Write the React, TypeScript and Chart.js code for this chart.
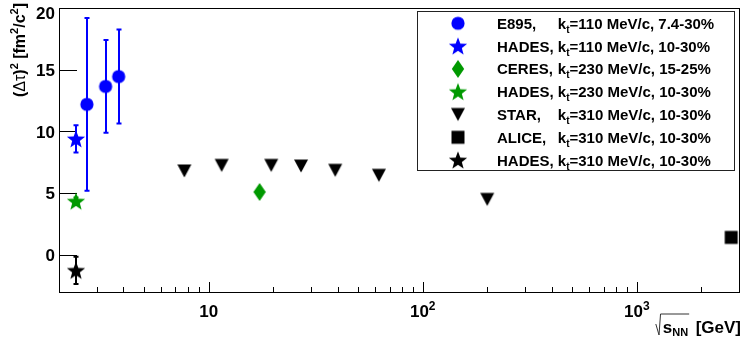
import React, { useEffect, useRef } from "react";
import { Chart, registerables } from "chart.js";

Chart.register(...registerables);

// ---- data ----
const hadesEnergy = [2.4];
const e895Energy = [2.7, 3.3, 3.8];
const e895Tau2 = [12.2, 13.65, 14.45];
const e895Err = [7.0, 3.75, 3.8];
const hades110Tau2 = [9.4];
const hades110Err = [1.1];
const ceresEnergy = [17.3];
const ceresTau2 = [5.1];
const hades230Tau2 = [4.35];
const hades230Err = [0.3];
const starEnergy = [7.7, 11.5, 19.6, 27, 39, 62.4, 200];
const starTau2 = [6.8, 7.25, 7.25, 7.2, 6.85, 6.45, 4.5];
const aliceEnergy = [2760];
const aliceTau2 = [1.42];
const hades310Tau2 = [-1.25];
const hades310Err = [1.1];

const xTicks = [10, 100, 1000];
const xTickBase = ["10", "10", "10"];
const xTickExp = ["", "2", "3"];
const yTicks = [0, 5, 10, 15, 20];
const yTickLabels = ["0", "5", "10", "15", "20"];

const legendNames = ["E895,", "HADES,", "CERES,", "HADES,", "STAR,", "ALICE,", "HADES,"];
const legendKt = ["110", "110", "230", "230", "310", "310", "310"];
const legendCentrality = ["7.4-30%", "10-30%", "15-25%", "10-30%", "10-30%", "10-30%", "10-30%"];

const BLUE = "#0000ff";
const GREEN = "#009900";
const BLACK = "#000000";
const FAM = "'Liberation Sans', Arial, Helvetica, sans-serif";

function makeMarker(shape: string, color: string): HTMLCanvasElement {
  const s = 22;
  const c = document.createElement("canvas");
  c.width = s;
  c.height = s;
  const g = c.getContext("2d")!;
  g.fillStyle = color;
  g.translate(s / 2, s / 2);
  g.beginPath();
  if (shape === "circle") {
    g.arc(0, 0, 6.6, 0, Math.PI * 2);
  } else if (shape === "star") {
    const R = 9.6;
    const r = R * 0.42;
    for (let i = 0; i < 10; i++) {
      const a = -Math.PI / 2 + (i * Math.PI) / 5;
      const rr = i % 2 === 0 ? R : r;
      const px = rr * Math.cos(a);
      const py = rr * Math.sin(a) + 0.8;
      if (i === 0) g.moveTo(px, py);
      else g.lineTo(px, py);
    }
    g.closePath();
  } else if (shape === "diamond") {
    g.moveTo(0, -9);
    g.lineTo(6.2, 0);
    g.lineTo(0, 9);
    g.lineTo(-6.2, 0);
    g.closePath();
  } else if (shape === "triangleDown") {
    g.moveTo(-7, -6.5);
    g.lineTo(7, -6.5);
    g.lineTo(0, 6.5);
    g.closePath();
  } else if (shape === "square") {
    g.rect(-6.5, -6.5, 13, 13);
  }
  g.fill();
  return c;
}

type Seg = { t: string; font: string; dy?: number };

function drawSegs(ctx: CanvasRenderingContext2D, segs: Seg[], x: number, y: number, align: string) {
  ctx.textAlign = "left";
  ctx.textBaseline = "alphabetic";
  const widths = segs.map((s) => {
    ctx.font = s.font;
    return ctx.measureText(s.t).width;
  });
  const total = widths.reduce((a, b) => a + b, 0);
  let cx = align === "left" ? x : align === "center" ? x - total / 2 : x - total;
  const start = cx;
  segs.forEach((s, i) => {
    ctx.font = s.font;
    ctx.fillText(s.t, cx, y + (s.dy || 0));
    cx += widths[i];
  });
  return { start, total, widths };
}

const decorPlugin = {
  id: "rootDecor",
  beforeDatasetsDraw(chart: any) {
    const ctx: CanvasRenderingContext2D = chart.ctx;
    const { left, right, top, bottom } = chart.chartArea;
    const xs = chart.scales.x;
    const ys = chart.scales.y;
    ctx.save();
    // frame
    ctx.strokeStyle = "#000";
    ctx.lineWidth = 1;
    ctx.strokeRect(Math.round(left) + 0.5, Math.round(top) + 0.5, Math.round(right - left), Math.round(bottom - top));
    // y ticks
    ctx.beginPath();
    yTicks.forEach((v) => {
      const py = Math.round(ys.getPixelForValue(v)) + 0.5;
      ctx.moveTo(left, py);
      ctx.lineTo(left + 18, py);
    });
    // x ticks (major + minor)
    const lo = xs.min;
    const hi = xs.max;
    for (let e = 0; e <= 4; e++) {
      for (let k = 1; k <= 9; k++) {
        const v = k * Math.pow(10, e);
        if (v <= lo * 1.0001 || v >= hi * 0.9999) continue;
        const px = Math.round(xs.getPixelForValue(v)) + 0.5;
        const len = k === 1 ? 10 : 5;
        ctx.moveTo(px, bottom);
        ctx.lineTo(px, bottom - len);
      }
    }
    ctx.stroke();
    // error bars
    chart.data.datasets.forEach((ds: any, i: number) => {
      if (!ds.errors) return;
      const meta = chart.getDatasetMeta(i);
      ctx.strokeStyle = ds.errColor;
      ctx.lineWidth = 2;
      meta.data.forEach((el: any, j: number) => {
        const val = ds.data[j].y;
        const err = ds.errors[j];
        const yT = ys.getPixelForValue(val + err);
        const yB = ys.getPixelForValue(val - err);
        const x = Math.round(el.x);
        ctx.beginPath();
        ctx.moveTo(x, yT);
        ctx.lineTo(x, yB);
        ctx.moveTo(x - 2.5, yT);
        ctx.lineTo(x + 2.5, yT);
        ctx.moveTo(x - 2.5, yB);
        ctx.lineTo(x + 2.5, yB);
        ctx.stroke();
      });
    });
    ctx.restore();
  },
  afterDraw(chart: any) {
    const ctx: CanvasRenderingContext2D = chart.ctx;
    const { left, bottom } = chart.chartArea;
    const xs = chart.scales.x;
    const ys = chart.scales.y;
    ctx.save();
    ctx.fillStyle = "#000";
    const tickFont = `bold 17px ${FAM}`;
    const supFont = `bold 12px ${FAM}`;
    // y tick labels
    yTicks.forEach((v, i) => {
      const cy = Math.max(ys.getPixelForValue(v), 12.5);
      drawSegs(ctx, [{ t: yTickLabels[i], font: tickFont }], left - 4, cy + 6.1, "right");
    });
    // x tick labels
    xTicks.forEach((v, i) => {
      const px = xs.getPixelForValue(v);
      const segs: Seg[] = [{ t: xTickBase[i], font: tickFont }];
      if (xTickExp[i]) segs.push({ t: xTickExp[i], font: supFont, dy: -7 });
      drawSegs(ctx, segs, px, bottom + 25, "center");
    });
    // x title: sqrt(s_NN) [GeV]
    const tFont = `bold 17px ${FAM}`;
    const bl = 333;
    const r = drawSegs(
      ctx,
      [
        { t: "s", font: tFont },
        { t: "NN", font: `bold 11px ${FAM}`, dy: 3 },
        { t: " ", font: `bold 10px ${FAM}` },
        { t: " [GeV]", font: tFont },
      ],
      741,
      bl,
      "right"
    );
    const sx = r.start;
    const overEnd = sx + r.widths[0] + r.widths[1] + 1;
    ctx.strokeStyle = "#333";
    ctx.lineWidth = 1;
    ctx.beginPath();
    ctx.moveTo(sx - 7, bl - 9);
    ctx.lineTo(sx - 3.8, bl + 2);
    ctx.lineTo(sx - 2.3, bl - 19);
    ctx.lineTo(overEnd, bl - 19);
    ctx.stroke();
    // y title
    ctx.save();
    ctx.translate(25, 3);
    ctx.rotate(-Math.PI / 2);
    const yf = `bold 16px ${FAM}`;
    const ys2 = `bold 11px ${FAM}`;
    drawSegs(
      ctx,
      [
        { t: "(", font: yf },
        { t: "\u0394\u03c4", font: `16px ${FAM}` },
        { t: ")", font: yf },
        { t: "2", font: ys2, dy: -7 },
        { t: " [fm", font: yf },
        { t: "2", font: ys2, dy: -7 },
        { t: "/c", font: yf },
        { t: "2", font: ys2, dy: -7 },
        { t: "]", font: yf },
      ],
      0,
      0,
      "right"
    );
    ctx.restore();
    // legend
    const bx = 417.5, by = 11.5, bw = 317, bh = 159;
    ctx.fillStyle = "#fff";
    ctx.fillRect(bx, by, bw, bh);
    ctx.strokeStyle = "#222";
    ctx.lineWidth = 1;
    ctx.strokeRect(bx, by, bw, bh);
    ctx.fillStyle = "#000";
    const lf = `bold 15px ${FAM}`;
    ctx.font = lf;
    const nameX = 497;
    const kX = nameX + ctx.measureText("HADES, ").width;
    chart.data.datasets.forEach((ds: any, i: number) => {
      const rowY = 23.3 + i * 22.8;
      const img = ds.pointStyle as HTMLCanvasElement;
      ctx.drawImage(img, 458 - img.width / 2, rowY - img.height / 2);
      const base = rowY + 5.4;
      drawSegs(ctx, [{ t: legendNames[i], font: lf }], nameX, base, "left");
      drawSegs(
        ctx,
        [
          { t: "k", font: lf },
          { t: "t", font: `bold 10px ${FAM}`, dy: 4 },
          { t: "=" + legendKt[i] + " MeV/c, " + legendCentrality[i], font: lf },
        ],
        kX,
        base,
        "left"
      );
    });
    ctx.restore();
  },
};

export default function App() {
  const ref = useRef<HTMLCanvasElement | null>(null);
  useEffect(() => {
    if (!ref.current) return;
    const mk = {
      blueCircle: makeMarker("circle", BLUE),
      blueStar: makeMarker("star", BLUE),
      greenDiamond: makeMarker("diamond", GREEN),
      greenStar: makeMarker("star", GREEN),
      blackTri: makeMarker("triangleDown", BLACK),
      blackSquare: makeMarker("square", BLACK),
      blackStar: makeMarker("star", BLACK),
    };
    const pts = (xs: number[], ys: number[]) => ys.map((y, i) => ({ x: xs[i], y }));
    const datasets: any[] = [
      { label: "E895", data: pts(e895Energy, e895Tau2), pointStyle: mk.blueCircle, errors: e895Err, errColor: BLUE },
      { label: "HADES 110", data: pts(hadesEnergy, hades110Tau2), pointStyle: mk.blueStar, errors: hades110Err, errColor: BLUE },
      { label: "CERES", data: pts(ceresEnergy, ceresTau2), pointStyle: mk.greenDiamond },
      { label: "HADES 230", data: pts(hadesEnergy, hades230Tau2), pointStyle: mk.greenStar, errors: hades230Err, errColor: GREEN },
      { label: "STAR", data: pts(starEnergy, starTau2), pointStyle: mk.blackTri },
      { label: "ALICE", data: pts(aliceEnergy, aliceTau2), pointStyle: mk.blackSquare },
      { label: "HADES 310", data: pts(hadesEnergy, hades310Tau2), pointStyle: mk.blackStar, errors: hades310Err, errColor: BLACK },
    ].map((d) => ({ ...d, showLine: false, clip: false, pointRadius: 7, pointHoverRadius: 7 }));

    const chart = new Chart(ref.current, {
      type: "scatter",
      data: { datasets },
      options: {
        responsive: false,
        animation: false,
        events: [],
        layout: { padding: { top: 5, right: 8, left: 0, bottom: 0 } },
        plugins: { legend: { display: false }, tooltip: { enabled: false } },
        scales: {
          x: {
            type: "logarithmic",
            min: 2,
            max: 3000,
            ticks: { display: false },
            grid: { display: false },
            border: { display: false },
            afterFit: (s: any) => {
              s.height = 57;
            },
          },
          y: {
            type: "linear",
            min: -3,
            max: 20,
            ticks: { display: false },
            grid: { display: false },
            border: { display: false },
            afterFit: (s: any) => {
              s.width = 59;
            },
          },
        },
      } as any,
      plugins: [decorPlugin as any],
    });
    return () => chart.destroy();
  }, []);

  return (
    <div style={{ position: "fixed", left: 0, top: 0, width: 747, height: 349, background: "#fff" }}>
      <canvas ref={ref} width={747} height={349} style={{ display: "block" }} />
    </div>
  );
}
